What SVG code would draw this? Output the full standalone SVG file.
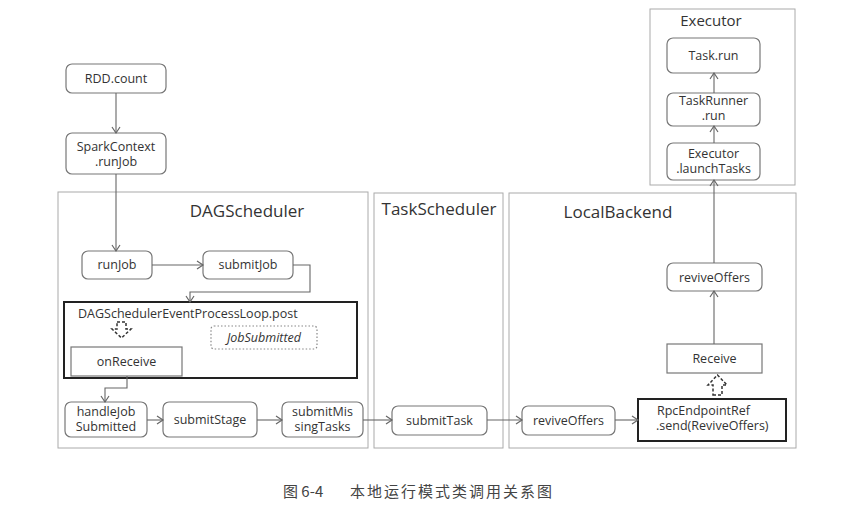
<svg xmlns="http://www.w3.org/2000/svg" width="846" height="519" viewBox="0 0 846 519">
  <defs>
    <marker id="arr" markerUnits="userSpaceOnUse" markerWidth="12" markerHeight="12" refX="9" refY="5" orient="auto">
      <polyline points="3,1 9,5 3,9" fill="none" stroke="#666" stroke-width="1.2"/>
    </marker>
    <style>
      .panel { fill: none; stroke: #aaa; stroke-width: 1; }
      .ptitle { font-family: "Open Sans", "Noto Sans", sans-serif; font-size: 17px; fill: #333; text-anchor: middle; }
      .node { fill: #fff; stroke: #777; stroke-width: 1.2; }
      .thick { fill: #fff; stroke: #222; stroke-width: 2; }
      .t { font-family: "Open Sans", "Noto Sans", sans-serif; font-size: 12.5px; fill: #333; text-anchor: middle; }
      .tl { font-family: "Open Sans", "Noto Sans", sans-serif; font-size: 12.5px; fill: #333; }
      .conn { fill: none; stroke: #666; stroke-width: 1.1; marker-end: url(#arr); }
      .hollow { fill: #fff; stroke: #333; stroke-width: 1.5; stroke-dasharray: 3 2; }
      .cap { font-family: "Noto Sans CJK SC", "Noto Sans", sans-serif; font-size: 15px; fill: #444; }
    </style>
  </defs>
  <rect width="846" height="519" fill="#fff"/>

  <g id="panels">
    <g id="panel-dag">
      <rect class="panel" x="58" y="192" width="310" height="256"/>
      <text class="ptitle" x="247" y="217">DAGScheduler</text>
    </g>
    <g id="panel-task">
      <rect class="panel" x="374" y="193" width="129" height="255"/>
      <text class="ptitle" x="439" y="215">TaskScheduler</text>
    </g>
    <g id="panel-local">
      <rect class="panel" x="509" y="193" width="287" height="255"/>
      <text class="ptitle" x="618" y="218">LocalBackend</text>
    </g>
    <g id="panel-executor">
      <rect class="panel" x="650" y="9" width="145" height="176"/>
      <text class="ptitle" x="711" y="26" style="font-size:15px">Executor</text>
    </g>
  </g>

  <g id="rdd-count">
    <rect class="node" x="66" y="64" width="100" height="29" rx="6"/>
    <text class="t" x="116" y="83">RDD.count</text>
  </g>
  <g id="sparkcontext-runjob">
    <rect class="node" x="66" y="133" width="100" height="41" rx="6"/>
    <text class="t" x="116" y="151">SparkContext<tspan x="116" dy="15">.runJob</tspan></text>
  </g>
  <g id="runjob">
    <rect class="node" x="82" y="251" width="70" height="28" rx="6"/>
    <text class="t" x="117" y="269">runJob</text>
  </g>
  <g id="submitjob">
    <rect class="node" x="203" y="251" width="90" height="28" rx="6"/>
    <text class="t" x="248" y="269">submitJob</text>
  </g>
  <g id="eventloop">
    <rect class="thick" x="64" y="302" width="293" height="76"/>
    <text class="tl" x="78" y="318">DAGSchedulerEventProcessLoop.post</text>
  </g>
  <g id="jobsubmitted">
    <rect x="211" y="326" width="106" height="23" rx="3" fill="#fff" stroke="#888" stroke-width="1.2" stroke-dasharray="1.5 2"/>
    <text class="t" x="264" y="342" font-style="italic">JobSubmitted</text>
  </g>
  <g id="onreceive">
    <rect class="node" x="71" y="347" width="111" height="29"/>
    <text class="t" x="126.5" y="366">onReceive</text>
  </g>
  <g id="handlejobsubmitted">
    <rect class="node" x="65" y="402" width="82" height="35" rx="6"/>
    <text class="t" x="106" y="416">handleJob<tspan x="106" dy="15">Submitted</tspan></text>
  </g>
  <g id="submitstage">
    <rect class="node" x="163" y="402" width="94" height="35" rx="6"/>
    <text class="t" x="210" y="424">submitStage</text>
  </g>
  <g id="submitmissingtasks">
    <rect class="node" x="282" y="402" width="81" height="35" rx="6"/>
    <text class="t" x="322.5" y="416">submitMis<tspan x="322.5" dy="15">singTasks</tspan></text>
  </g>
  <g id="submittask">
    <rect class="node" x="392" y="406" width="95" height="29" rx="6"/>
    <text class="t" x="439.5" y="425">submitTask</text>
  </g>
  <g id="reviveoffers-local">
    <rect class="node" x="522" y="406" width="93" height="29" rx="6"/>
    <text class="t" x="568.5" y="425">reviveOffers</text>
  </g>
  <g id="rpcendpointref-send">
    <rect class="thick" x="638" y="399" width="148" height="42"/>
    <text class="tl" x="657" y="415">RpcEndpointRef<tspan x="656" dy="15">.send(ReviveOffers)</tspan></text>
  </g>
  <g id="receive">
    <rect class="node" x="667" y="344" width="95" height="29"/>
    <text class="t" x="714.5" y="363">Receive</text>
  </g>
  <g id="reviveoffers-endpoint">
    <rect class="node" x="667" y="263" width="95" height="28" rx="6"/>
    <text class="t" x="714.5" y="282">reviveOffers</text>
  </g>
  <g id="executor-launchtasks">
    <rect class="node" x="667" y="143" width="93" height="37" rx="6"/>
    <text class="t" x="713.5" y="158">Executor<tspan x="713.5" dy="15">.launchTasks</tspan></text>
  </g>
  <g id="taskrunner-run">
    <rect class="node" x="667" y="93" width="93" height="33" rx="6"/>
    <text class="t" x="713.5" y="105">TaskRunner<tspan x="713.5" dy="15">.run</tspan></text>
  </g>
  <g id="task-run">
    <rect class="node" x="667" y="38" width="93" height="35" rx="6"/>
    <text class="t" x="713.5" y="60">Task.run</text>
  </g>

  <g id="connectors">
    <line class="conn" x1="116" y1="93" x2="116" y2="133"/>
    <line class="conn" x1="116" y1="174" x2="116" y2="251"/>
    <line class="conn" x1="152" y1="265" x2="203" y2="265"/>
    <path class="conn" d="M293,265 H310 V292 H190 V302"/>
    <path class="conn" d="M127,376 V388 H105 V402"/>
    <line class="conn" x1="147" y1="420" x2="163" y2="420"/>
    <line class="conn" x1="257" y1="420" x2="282" y2="420"/>
    <line class="conn" x1="363" y1="420" x2="392" y2="420"/>
    <line class="conn" x1="487" y1="420" x2="522" y2="420"/>
    <line class="conn" x1="615" y1="420" x2="638" y2="420"/>
    <line class="conn" x1="714" y1="344" x2="714" y2="291"/>
    <line class="conn" x1="714" y1="263" x2="714" y2="180"/>
    <line class="conn" x1="714" y1="143" x2="714" y2="126"/>
    <line class="conn" x1="714" y1="93" x2="714" y2="73"/>
    <polygon class="hollow" points="117,322 126,322 126,329 131,329 121.5,338 112,329 117,329"/>
    <polygon class="hollow" points="713,395 722,395 722,385 727,385 717.5,375 708,385 713,385"/>
  </g>

  <g id="caption">
    <text class="cap" x="283" y="497">图 6-4</text>
    <text class="cap" x="350" y="497" letter-spacing="2">本地运行模式类调用关系图</text>
  </g>
</svg>
